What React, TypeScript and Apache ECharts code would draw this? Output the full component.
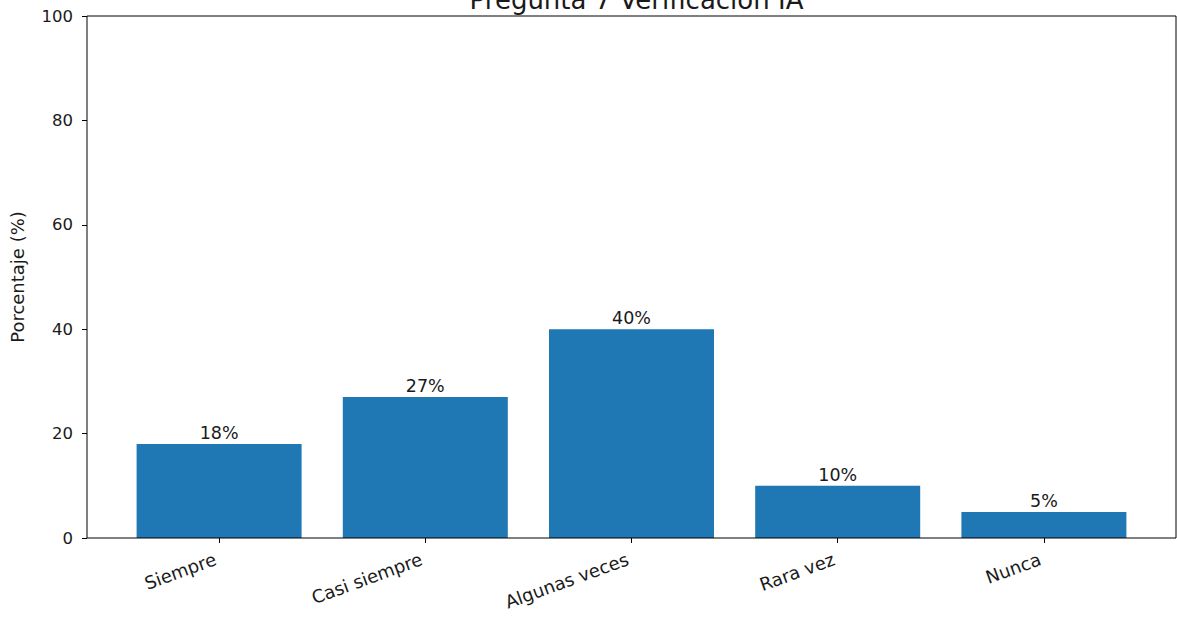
import React, { useEffect, useRef } from "react";
import * as echarts from "echarts";

const categories = ["Siempre", "Casi siempre", "Algunas veces", "Rara vez", "Nunca"];
const values = [18, 27, 40, 10, 5];
const yTicks = [0, 20, 40, 60, 80, 100];
const titleText = "Pregunta 7 Verificación IA";
const yName = "Porcentaje (%)";

const FONT = "DejaVu Sans";
const TXT = "#1a1a1a";

export default function App() {
  const ref = useRef<HTMLDivElement>(null);
  useEffect(() => {
    if (!ref.current) return;
    const chart = echarts.init(ref.current, null, { renderer: "svg" });
    chart.setOption({
      animation: false,
      textStyle: { fontFamily: FONT },
      title: {
        text: titleText,
        left: 631.5,
        textAlign: "center",
        top: -18,
        textStyle: { fontFamily: FONT, fontSize: 26, fontWeight: "normal", color: TXT },
      },
      grid: { left: 116, right: 30, top: 16, bottom: 80, containLabel: false },
      xAxis: {
        type: "category",
        data: categories,
        axisLine: { show: false },
        axisTick: { show: true, alignWithLabel: true, length: 5, lineStyle: { color: "#000" } },
        axisLabel: {
          rotate: 20,
          fontSize: 18,
          color: TXT,
          fontFamily: FONT,
          margin: 19,
          interval: 0,
          padding: [0, 4, 0, 0],
        },
      },
      yAxis: {
        type: "value",
        min: yTicks[0],
        max: yTicks[yTicks.length - 1],
        interval: 20,
        offset: 29,
        name: yName,
        nameLocation: "middle",
        nameGap: 61,
        nameTextStyle: { fontSize: 18, color: TXT, fontFamily: FONT },
        axisLine: { show: false },
        axisTick: { show: true, length: 5, lineStyle: { color: "#000" } },
        axisLabel: { fontSize: 16.5, color: TXT, fontFamily: FONT, margin: 14 },
        splitLine: { show: false },
      },
      series: [
        {
          type: "bar",
          data: values,
          barWidth: 165,
          itemStyle: { color: "#1f77b4" },
          label: {
            show: true,
            position: "top",
            distance: 2,
            formatter: (p: any) => `${p.value}%`,
            fontSize: 17.5,
            color: TXT,
            fontFamily: FONT,
          },
        },
      ],
      graphic: [
        {
          type: "rect",
          shape: { x: 87, y: 16, width: 1089, height: 522 },
          style: { fill: "none", stroke: "#000", lineWidth: 1 },
          silent: true,
          z: 100,
        },
      ],
    });
    return () => chart.dispose();
  }, []);
  return (
    <div
      ref={ref}
      style={{ position: "absolute", left: 0, top: 0, width: 1177, height: 618, background: "#fff" }}
    />
  );
}
